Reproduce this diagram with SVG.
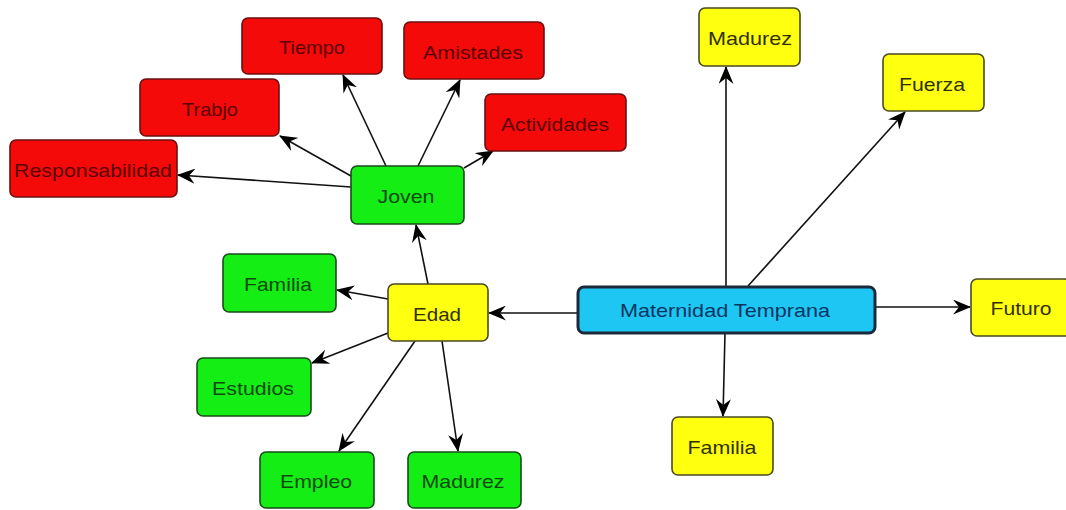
<svg xmlns="http://www.w3.org/2000/svg" width="1066" height="510" viewBox="0 0 1066 510">
<defs>
<marker id="ah" markerUnits="userSpaceOnUse" markerWidth="18" markerHeight="15" viewBox="0 0 18 15" refX="17" refY="7.5" orient="auto">
<path d="M0,0 L18,7.5 L0,15 L6,7.5 z" fill="#000"/>
</marker>
<style>
rect{stroke:#3a3a2a;stroke-width:1.6}
.r rect{fill:#f50a0a;stroke:#6a1010}
.g rect{fill:#14ee14;stroke:#1a4a1a}
.y rect{fill:#ffff10;stroke:#4a4a20}
.b rect{fill:#1ec6f4;stroke:#1a2a3a;stroke-width:3}
text{font-family:"Liberation Sans",Arial,sans-serif;font-size:19px;text-anchor:middle;dominant-baseline:central}
.r text{fill:#5a0000}
.g text{fill:#0e4a0e}
.y text{fill:#30300a}
.b text{fill:#0a3560}
#edges line{stroke:#111;stroke-width:1.6;marker-end:url(#ah)}
</style>
</defs>
<rect x="0" y="0" width="1066" height="510" fill="#fff" style="stroke:none"/>
<g id="edges">
<line x1="726" y1="286" x2="726" y2="67"/>
<line x1="748" y1="286" x2="905" y2="112"/>
<line x1="875" y1="307" x2="970" y2="307"/>
<line x1="725" y1="333" x2="723" y2="416"/>
<line x1="577" y1="313" x2="489" y2="313"/>
<line x1="428" y1="284" x2="416" y2="225"/>
<line x1="388" y1="299" x2="337" y2="290"/>
<line x1="388" y1="333" x2="312" y2="363"/>
<line x1="415" y1="341" x2="339" y2="451"/>
<line x1="442" y1="341" x2="458" y2="451"/>
<line x1="351" y1="187" x2="178" y2="175"/>
<line x1="351" y1="176" x2="280" y2="136"/>
<line x1="386" y1="166" x2="343" y2="75"/>
<line x1="418" y1="166" x2="460" y2="80"/>
<line x1="464" y1="168" x2="493" y2="151"/>
</g>
<g id="n-maternidad" class="b"><rect x="578" y="287" width="297" height="46" rx="6"/><text x="725" y="310" textLength="210" lengthAdjust="spacingAndGlyphs">Maternidad Temprana</text></g>
<g id="n-madurez-top" class="y"><rect x="699" y="8" width="101" height="58" rx="6"/><text x="750" y="38" textLength="84" lengthAdjust="spacingAndGlyphs">Madurez</text></g>
<g id="n-fuerza" class="y"><rect x="883" y="54" width="101" height="57" rx="6"/><text x="932" y="84" textLength="66" lengthAdjust="spacingAndGlyphs">Fuerza</text></g>
<g id="n-futuro" class="y"><rect x="971" y="279" width="100" height="57" rx="6"/><text x="1021" y="308" textLength="61" lengthAdjust="spacingAndGlyphs">Futuro</text></g>
<g id="n-familia-y" class="y"><rect x="672" y="417" width="101" height="58" rx="6"/><text x="722" y="447" textLength="69" lengthAdjust="spacingAndGlyphs">Familia</text></g>
<g id="n-edad" class="y"><rect x="388" y="284" width="100" height="57" rx="6"/><text x="437" y="314" textLength="48" lengthAdjust="spacingAndGlyphs">Edad</text></g>
<g id="n-joven" class="g"><rect x="351" y="166" width="113" height="58" rx="6"/><text x="406" y="196" textLength="57" lengthAdjust="spacingAndGlyphs">Joven</text></g>
<g id="n-familia-g" class="g"><rect x="223" y="254" width="113" height="58" rx="6"/><text x="278" y="284" textLength="68" lengthAdjust="spacingAndGlyphs">Familia</text></g>
<g id="n-estudios" class="g"><rect x="197" y="358" width="114" height="58" rx="6"/><text x="253" y="388" textLength="82" lengthAdjust="spacingAndGlyphs">Estudios</text></g>
<g id="n-empleo" class="g"><rect x="260" y="452" width="114" height="56" rx="6"/><text x="316" y="481" textLength="72" lengthAdjust="spacingAndGlyphs">Empleo</text></g>
<g id="n-madurez-g" class="g"><rect x="408" y="452" width="113" height="56" rx="6"/><text x="463" y="481" textLength="83" lengthAdjust="spacingAndGlyphs">Madurez</text></g>
<g id="n-tiempo" class="r"><rect x="242" y="18" width="140" height="56" rx="6"/><text x="312" y="47" textLength="66" lengthAdjust="spacingAndGlyphs">Tiempo</text></g>
<g id="n-amistades" class="r"><rect x="404" y="22" width="140" height="57" rx="6"/><text x="473" y="52" textLength="100" lengthAdjust="spacingAndGlyphs">Amistades</text></g>
<g id="n-trabjo" class="r"><rect x="140" y="79" width="139" height="57" rx="6"/><text x="210" y="109" textLength="56" lengthAdjust="spacingAndGlyphs">Trabjo</text></g>
<g id="n-actividades" class="r"><rect x="485" y="94" width="141" height="57" rx="6"/><text x="555" y="124" textLength="108" lengthAdjust="spacingAndGlyphs">Actividades</text></g>
<g id="n-responsabilidad" class="r"><rect x="10" y="140" width="167" height="57" rx="6"/><text x="93" y="170" textLength="158" lengthAdjust="spacingAndGlyphs">Responsabilidad</text></g>
</svg>
